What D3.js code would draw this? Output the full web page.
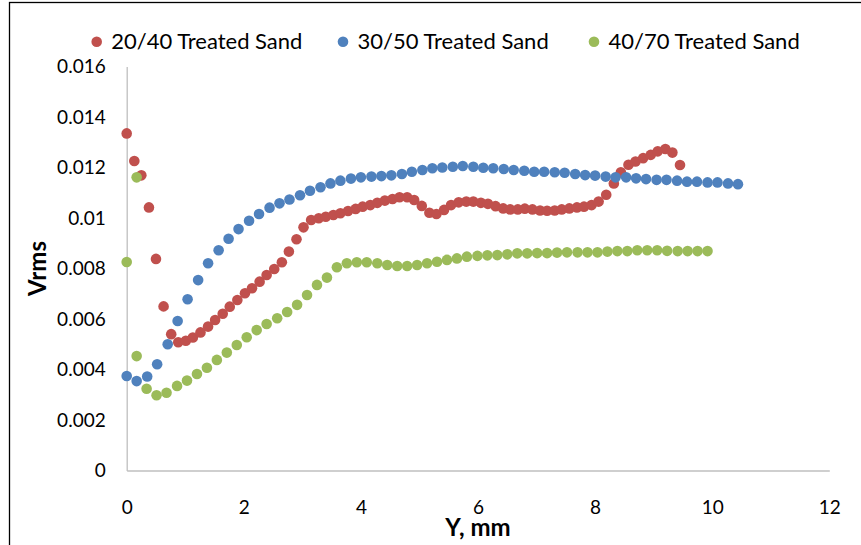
<!DOCTYPE html>
<html>
<head>
<meta charset="utf-8">
<script src="https://cdn.jsdelivr.net/npm/d3@7/dist/d3.min.js"></script>
<style>
  html, body { margin: 0; padding: 0; background: #fff; }
  svg { display: block; }
  text { font-family: Lato, "Open Sans", sans-serif; fill: #000; }
</style>
</head>
<body>
<svg id="chart" width="861" height="545"></svg>
<script>
// Series names and colours
const seriesNames = ["20/40 Treated Sand", "30/50 Treated Sand", "40/70 Treated Sand"];
const seriesColors = ["#C0504D", "#4F81BD", "#9BBB59"];

// 20/40 treated sand: position (mm) and Vrms
const sand2040X = [0, 0.13, 0.25, 0.38, 0.5, 0.63, 0.76, 0.88, 1.01, 1.13,
  1.26, 1.39, 1.51, 1.64, 1.76, 1.89, 2.02, 2.14, 2.27, 2.39,
  2.52, 2.65, 2.77, 2.9, 3.02, 3.15, 3.28, 3.4, 3.53, 3.65,
  3.78, 3.91, 4.03, 4.16, 4.28, 4.41, 4.54, 4.66, 4.79, 4.91,
  5.04, 5.17, 5.29, 5.42, 5.54, 5.67, 5.8, 5.92, 6.05, 6.17,
  6.3, 6.43, 6.55, 6.68, 6.8, 6.93, 7.06, 7.18, 7.31, 7.43,
  7.56, 7.69, 7.81, 7.94, 8.06, 8.19, 8.32, 8.44, 8.57, 8.69,
  8.82, 8.95, 9.07, 9.2, 9.32, 9.45];
const sand2040Y = [0.01335, 0.01226, 0.01169, 0.01042, 0.00838, 0.0065, 0.0054, 0.00508, 0.00514, 0.00527,
  0.00547, 0.0057, 0.00596, 0.00621, 0.00649, 0.00675, 0.00702, 0.00722, 0.00748, 0.00774,
  0.00798, 0.00825, 0.00867, 0.00916, 0.00963, 0.00992, 0.00999, 0.01005, 0.01012, 0.01019,
  0.01028, 0.01036, 0.01045, 0.01051, 0.0106, 0.01069, 0.01075, 0.01082, 0.01082, 0.01071,
  0.01048, 0.01021, 0.01016, 0.01032, 0.01051, 0.01062, 0.01065, 0.01065, 0.0106, 0.01056,
  0.01047, 0.01038, 0.01034, 0.01034, 0.01037, 0.01034, 0.0103, 0.01029, 0.0103, 0.01034,
  0.01038, 0.01042, 0.01045, 0.01051, 0.01065, 0.01092, 0.01137, 0.01181, 0.01211, 0.01224,
  0.01237, 0.0125, 0.01264, 0.01273, 0.01259, 0.0121];

// 30/50 treated sand
const sand3050X = [0, 0.17, 0.35, 0.52, 0.7, 0.87, 1.04, 1.22, 1.39, 1.57,
  1.74, 1.91, 2.09, 2.26, 2.44, 2.61, 2.78, 2.96, 3.13, 3.31,
  3.48, 3.65, 3.83, 4.0, 4.18, 4.35, 4.52, 4.7, 4.87, 5.05,
  5.22, 5.39, 5.57, 5.74, 5.92, 6.09, 6.26, 6.44, 6.61, 6.79,
  6.96, 7.13, 7.31, 7.48, 7.66, 7.83, 8.0, 8.18, 8.35, 8.53,
  8.7, 8.87, 9.05, 9.22, 9.4, 9.57, 9.74, 9.92, 10.09, 10.27,
  10.44];
const sand3050Y = [0.00374, 0.00354, 0.00372, 0.00421, 0.005, 0.00592, 0.00678, 0.00754, 0.00821, 0.00872,
  0.00918, 0.00956, 0.00989, 0.01016, 0.01041, 0.01058, 0.01073, 0.0109, 0.01108, 0.01122,
  0.01137, 0.01148, 0.01156, 0.01161, 0.01164, 0.01166, 0.01169, 0.01174, 0.01183, 0.0119,
  0.01197, 0.012, 0.01203, 0.01206, 0.01203, 0.01199, 0.01197, 0.01194, 0.0119, 0.01187,
  0.01183, 0.01183, 0.01181, 0.01179, 0.01174, 0.0117, 0.01168, 0.01164, 0.01161, 0.01161,
  0.01157, 0.01154, 0.01151, 0.01151, 0.01148, 0.01144, 0.01144, 0.01141, 0.01141, 0.01137,
  0.01134];

// 40/70 treated sand
const sand4070X = [0, 0.17, 0.17, 0.34, 0.51, 0.68, 0.86, 1.03, 1.2, 1.37, 1.54,
  1.71, 1.88, 2.05, 2.22, 2.39, 2.57, 2.74, 2.91, 3.08, 3.25,
  3.42, 3.59, 3.76, 3.93, 4.1, 4.28, 4.45, 4.62, 4.79, 4.96,
  5.13, 5.3, 5.47, 5.64, 5.81, 5.99, 6.16, 6.33, 6.5, 6.67,
  6.84, 7.01, 7.18, 7.35, 7.52, 7.7, 7.87, 8.04, 8.21, 8.38,
  8.55, 8.72, 8.89, 9.06, 9.23, 9.41, 9.58, 9.75, 9.92];
const sand4070Y = [0.00826, 0.01161, 0.00453, 0.00324, 0.00298, 0.00308, 0.00335, 0.00356, 0.00382, 0.00407, 0.00438,
  0.00467, 0.00497, 0.00528, 0.00556, 0.0058, 0.00603, 0.00628, 0.00656, 0.00695, 0.00735,
  0.00764, 0.00805, 0.00821, 0.00825, 0.00825, 0.00821, 0.00814, 0.0081, 0.0081, 0.00814,
  0.00821, 0.00827, 0.00834, 0.0084, 0.00847, 0.0085, 0.00852, 0.00853, 0.00856, 0.0086,
  0.0086, 0.00861, 0.00861, 0.00863, 0.00864, 0.00864, 0.00864, 0.00864, 0.00867, 0.00869,
  0.00869, 0.00872, 0.00872, 0.00872, 0.0087, 0.00869, 0.00869, 0.00869, 0.00869];

// Axis ticks
const xTicks = [0, 2, 4, 6, 8, 10, 12];
const yTicks = [0, 0.002, 0.004, 0.006, 0.008, 0.01, 0.012, 0.014, 0.016];
const xTitle = "Y, mm";
const yTitle = "Vrms";

const seriesX = [sand2040X, sand3050X, sand4070X];
const seriesY = [sand2040Y, sand3050Y, sand4070Y];

const svg = d3.select("#chart");

// Outer chart frame
svg.append("rect")
  .attr("x", 9.5).attr("y", 2.5)
  .attr("width", 900).attr("height", 600)
  .attr("fill", "#fff")
  .attr("stroke", "#000").attr("stroke-width", 1.3);

const x = d3.scaleLinear().domain([0, 12]).range([126.7, 829.3]);
const y = d3.scaleLinear().domain([0, 0.016]).range([470.5, 66.5]);

const axisColor = "#BFBFBF";
const tickFont = 19;

// Y axis
const gy = svg.append("g")
  .attr("transform", `translate(${x(0)},0)`)
  .call(d3.axisLeft(y).tickValues(yTicks).tickSize(0).tickPadding(21)
    .tickFormat(d => d === 0 ? "0" : String(+d.toFixed(3))));
gy.select(".domain").attr("stroke", axisColor).attr("stroke-width", 1.3);
gy.selectAll("text").attr("font-family", "Lato").attr("font-size", tickFont).attr("fill", "#000");

// X axis
const gx = svg.append("g")
  .attr("transform", `translate(0,${y(0)})`)
  .call(d3.axisBottom(x).tickValues(xTicks).tickSize(0).tickPadding(30)
    .tickFormat(d3.format("d")));
gx.select(".domain").attr("stroke", axisColor).attr("stroke-width", 1.3);
gx.selectAll("text").attr("font-family", "Lato").attr("font-size", tickFont).attr("fill", "#000");

// Axis titles
svg.append("text")
  .attr("transform", `translate(${(x(0) + x(12)) / 2},535.5)`)
  .attr("text-anchor", "middle")
  .attr("font-size", 24).attr("font-weight", "bold")
  .text(xTitle);
svg.append("text")
  .attr("transform", `translate(46,${(y(0) + y(0.016)) / 2}) rotate(-90)`)
  .attr("text-anchor", "middle")
  .attr("font-size", 24).attr("font-weight", "bold")
  .text(yTitle);

// Markers, drawn series by series
const plot = svg.append("g");
seriesNames.forEach((name, s) => {
  const pts = seriesX[s].map((xv, i) => [xv, seriesY[s][i]]);
  plot.append("g")
    .selectAll("circle")
    .data(pts)
    .join("circle")
    .attr("cx", d => x(d[0]))
    .attr("cy", d => y(d[1]))
    .attr("r", 5.3)
    .attr("fill", seriesColors[s]);
});

// Legend
const legendPos = [96.7, 343, 594];
const legend = svg.append("g");
seriesNames.forEach((name, s) => {
  legend.append("circle")
    .attr("cx", legendPos[s]).attr("cy", 41.7).attr("r", 5.3)
    .attr("fill", seriesColors[s]);
  legend.append("text")
    .attr("x", legendPos[s] + 14.5).attr("y", 49)
    .attr("font-size", 22)
    .text(name);
});
</script>
</body>
</html>
